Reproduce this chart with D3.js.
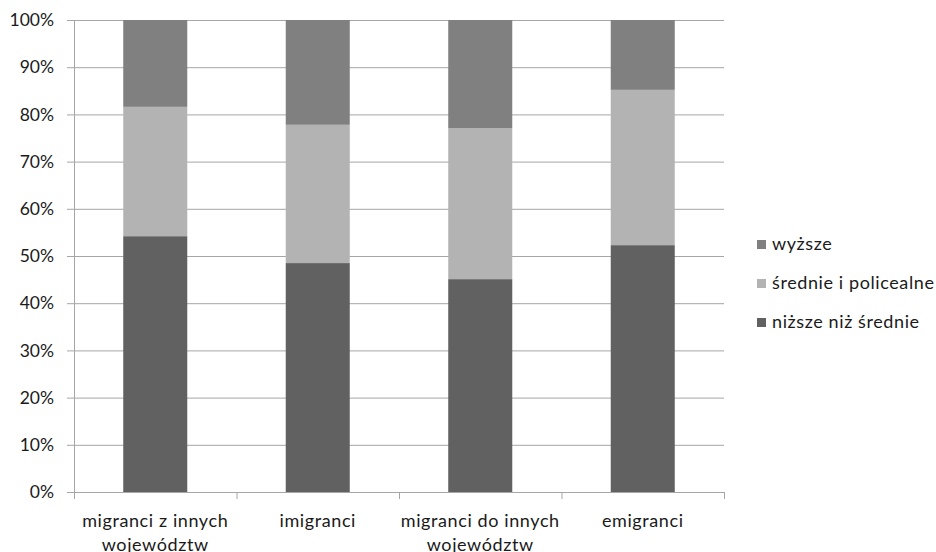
<!DOCTYPE html>
<html>
<head>
<meta charset="utf-8">
<script src="https://cdn.jsdelivr.net/npm/d3@7/dist/d3.min.js"></script>
<style>
  body { margin: 0; background: #fff; }
  svg { display: block; }
  text { font-family: Lato, "Open Sans", sans-serif; fill: #1a1a1a; }
  .lbl { font-size: 18px; letter-spacing: 0.6px; }
  .ylbl { font-size: 17.5px; }
</style>
</head>
<body>
<svg id="chart" width="936" height="552"></svg>
<script>
// Education structure of migrant groups (shares, %)
const categories = [
  ["migranci z innych", "województw"],
  ["imigranci"],
  ["migranci do innych", "województw"],
  ["emigranci"]
];
const seriesNames = ["niższe niż średnie", "średnie i policealne", "wyższe"];
const lower  = [54.2, 48.5, 45.1, 52.3];
const middle = [27.4, 29.3, 32.0, 32.9];
const higher = [18.4, 22.2, 22.9, 14.8];
const colors = ["#616161", "#b3b3b3", "#808080"];
const yTicks = [0, 10, 20, 30, 40, 50, 60, 70, 80, 90, 100];

const svg = d3.select("#chart");
const plotLeft = 74, plotRight = 724, plotTop = 20, plotBottom = 492;

const rows = categories.map((c, i) => ({ idx: i, lower: lower[i], middle: middle[i], higher: higher[i] }));
const keys = ["lower", "middle", "higher"];
const stacked = d3.stack().keys(keys)(rows);

const x = d3.scaleBand().domain(d3.range(categories.length)).range([plotLeft, plotRight]).paddingInner(0.606).paddingOuter(0.303);
const y = d3.scaleLinear().domain([0, 100]).range([plotBottom, plotTop]);

// horizontal gridlines
svg.append("g").selectAll("line").data(yTicks).join("line")
  .attr("x1", plotLeft - 7).attr("x2", plotRight)
  .attr("y1", d => y(d) + 0.5).attr("y2", d => y(d) + 0.5)
  .attr("stroke", "#a6a6a6").attr("stroke-width", 1);

// y axis labels
svg.append("g").selectAll("text").data(yTicks).join("text")
  .attr("class", "ylbl")
  .attr("x", 54).attr("y", d => y(d)).attr("dy", "0.35em")
  .attr("text-anchor", "end")
  .text(d => d + "%");

// stacked bars
svg.append("g").selectAll("g").data(stacked).join("g")
  .attr("fill", (d, i) => colors[i])
  .selectAll("rect").data(d => d).join("rect")
  .attr("x", (d, i) => x(i)).attr("width", x.bandwidth())
  .attr("y", d => y(d[1])).attr("height", d => y(d[0]) - y(d[1]));

// y axis line
svg.append("line").attr("x1", plotLeft + 0.5).attr("x2", plotLeft + 0.5)
  .attr("y1", plotTop).attr("y2", plotBottom + 7)
  .attr("stroke", "#a6a6a6");

// x axis ticks between categories
const step = (plotRight - plotLeft) / categories.length;
svg.append("g").selectAll("line").data(d3.range(categories.length + 1)).join("line")
  .attr("x1", d => plotLeft + d * step + 0.5).attr("x2", d => plotLeft + d * step + 0.5)
  .attr("y1", plotBottom).attr("y2", plotBottom + 7)
  .attr("stroke", "#a6a6a6");

// category labels
const xl = svg.append("g").selectAll("text").data(categories).join("text")
  .attr("class", "lbl")
  .attr("x", (d, i) => x(i) + x.bandwidth() / 2).attr("y", 527)
  .attr("text-anchor", "middle");
xl.selectAll("tspan").data(d => d).join("tspan")
  .attr("x", function () { return this.parentNode.getAttribute("x"); })
  .attr("dy", (d, i) => i === 0 ? 0 : 24)
  .text(d => d);

// legend (top series first)
const legendOrder = [2, 1, 0];
const lg = svg.append("g").selectAll("g").data(legendOrder).join("g")
  .attr("transform", (d, i) => `translate(757, ${240 + i * 39})`);
lg.append("rect").attr("width", 9).attr("height", 9).attr("fill", d => colors[d]);
lg.append("text").attr("class", "lbl").attr("x", 15).attr("y", 4).attr("dy", "0.35em")
  .text(d => seriesNames[d]);
</script>
</body>
</html>
